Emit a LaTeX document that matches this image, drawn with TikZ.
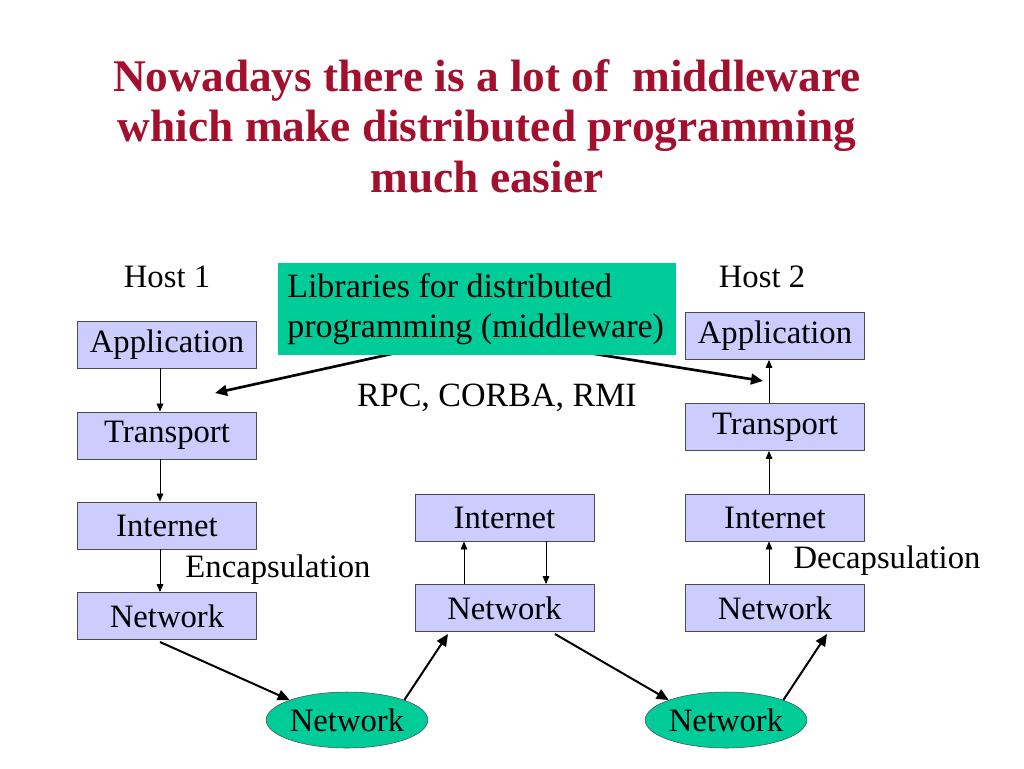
\documentclass[tikz,border=0pt]{standalone}
\usepackage{fontspec}
\setmainfont{Liberation Serif}
\usetikzlibrary{shapes.geometric,arrows.meta}
\definecolor{lav}{HTML}{CCCCFF}
\definecolor{grn}{HTML}{00CC99}
\definecolor{ttl}{HTML}{A3102E}
\begin{document}
\begin{tikzpicture}[x=0.75pt,y=-0.75pt,
 layer/.style={draw=black!70,fill=lav,minimum width=134pt,minimum height=35.5pt,inner sep=0pt,font=\fontsize{24.5}{26}\selectfont},
 net/.style={ellipse,draw=black!70,fill=grn,minimum width=121pt,minimum height=42pt,inner sep=0pt,font=\fontsize{24.5}{26}\selectfont},
 thin/.style={-{Triangle[length=6pt,width=5pt]},line width=0.6pt},
 thick/.style={-{Triangle[length=9pt,width=8pt]},line width=2pt},
 lbl/.style={font=\fontsize{24.5}{27}\selectfont,inner sep=0pt}]
\useasboundingbox (0,0) rectangle (1024,768);
\node[font=\bfseries\fontsize{34}{38}\selectfont,text=ttl,align=center] (title) at (487,126) {Nowadays there is a lot of\ \ middleware\\which make distributed programming\\much easier};
\node[lbl] (h1) at (167,277) {Host 1};
\node[lbl] (h2) at (762,277) {Host 2};
\node[layer] (a1) at (167,344.5) {Application};
\node[layer] (t1) at (167,435.5) {Transport};
\node[layer] (i1) at (167,525.5) {Internet};
\node[layer] (n1) at (167,616) {Network};
\node[layer] (im) at (504.5,517.5) {Internet};
\node[layer] (nm) at (504.5,608) {Network};
\node[layer] (a2) at (775,336) {Application};
\node[layer] (t2) at (775,427) {Transport};
\node[layer] (i2) at (775,517.5) {Internet};
\node[layer] (n2) at (775,608) {Network};
\node[net] (e1) at (347,720) {Network};
\node[net] (e2) at (726,720) {Network};
\node[lbl] (enc) at (278,570) {Encapsulation};
\node[lbl] (dec) at (887,561) {Decapsulation};
\node[lbl,font=\fontsize{25.5}{27}\selectfont] (rpc) at (497,398) {RPC, CORBA, RMI};
\coordinate (src) at (477,335);
\coordinate (lt) at (215,393);
\coordinate (rt) at (763,381);
\draw[thick] (src) -- (lt);
\draw[thick] (src) -- (rt);
\node[fill=grn,minimum width=298.5pt,minimum height=69pt,inner sep=0pt] (lib) at (477,309) {};
\node[lbl,font=\fontsize{25.5}{30}\selectfont,align=left,anchor=west] (libt) at (287,309) {Libraries for distributed\\programming (middleware)};
\draw[thin] (a1.south -| 160,0) -- (t1.north -| 160,0);
\draw[thin] (t1.south -| 160,0) -- (i1.north -| 160,0);
\draw[thin] (i1.south -| 160,0) -- (n1.north -| 160,0);
\draw[thin] (nm.north -| 464,0) -- (im.south -| 464,0);
\draw[thin] (im.south -| 546,0) -- (nm.north -| 546,0);
\draw[thin] (n2.north -| 769,0) -- (i2.south -| 769,0);
\draw[thin] (i2.north -| 769,0) -- (t2.south -| 769,0);
\draw[thin] (t2.north -| 769,0) -- (a2.south -| 769,0);
\draw[thick,line width=1.5pt] (160,642) -- (e1.north west) ;
\draw[thick,line width=1.5pt] (e1.north east) -- (448,634);
\draw[thick,line width=1.5pt] (555,634) -- (e2.north west);
\draw[thick,line width=1.5pt] (e2.north east) -- (827,634);
\end{tikzpicture}
\end{document}
